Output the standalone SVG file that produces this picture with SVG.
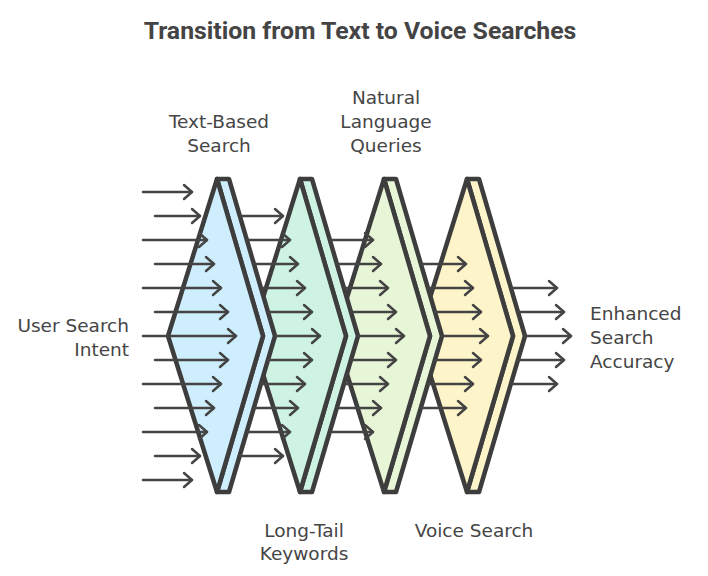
<svg xmlns="http://www.w3.org/2000/svg" width="708" height="576" viewBox="0 0 708 576">
<defs>
<marker id="ah" markerUnits="userSpaceOnUse" markerWidth="14" markerHeight="20" viewBox="0 0 14 20" refX="11" refY="10" orient="auto">
<path d="M3,3 L11,10 L3,17" fill="none" stroke="#444" stroke-width="2.5" stroke-linecap="round" stroke-linejoin="round"/>
</marker>
</defs>
<style>
.title{font-family:Roboto,"Liberation Sans",sans-serif;font-weight:700;font-size:24.8px;fill:#444}
.lbl{font-family:"DejaVu Sans","Liberation Sans",sans-serif;font-size:18.5px;fill:#454545}
.sh{stroke:#3d3d3d;stroke-width:4.5;stroke-linejoin:round}
.s1{fill:#cfeefd}.s2{fill:#cff3e2}.s3{fill:#e7f6d6}.s4{fill:#fdf5c9}
.ar{stroke:#444;stroke-width:2.5;fill:none;stroke-linecap:round;marker-end:url(#ah)}
</style>
<rect width="708" height="576" fill="#fff"/>
<text class="title" x="360" y="39" text-anchor="middle">Transition from Text to Voice Searches</text>

<g id="node-voice-search">
<path class="sh s4" d="M467,179 L479,179 L525,336 L479,492 L467,492 L513,336 Z"/>
<path class="sh s4" d="M467,179 L513,336 L467,492 L418,336 Z"/>
</g>
<g id="node-natural-language-queries">
<path class="sh s3" d="M384,179 L396,179 L442,336 L396,492 L384,492 L430,336 Z"/>
<path class="sh s3" d="M384,179 L430,336 L384,492 L335,336 Z"/>
</g>
<g id="node-long-tail-keywords">
<path class="sh s2" d="M300,179 L312,179 L358,336 L312,492 L300,492 L346,336 Z"/>
<path class="sh s2" d="M300,179 L346,336 L300,492 L251,336 Z"/>
</g>
<g id="node-text-based-search">
<path class="sh s1" d="M217,179 L229,179 L275,336 L229,492 L217,492 L263,336 Z"/>
<path class="sh s1" d="M217,179 L263,336 L217,492 L168,336 Z"/>
</g>

<g id="connectors">
<path class="ar" d="M143,192H192"/>
<path class="ar" d="M155,216H200"/>
<path class="ar" d="M143,240H207"/>
<path class="ar" d="M155,264H214"/>
<path class="ar" d="M143,288H221"/>
<path class="ar" d="M155,312H228"/>
<path class="ar" d="M143,336H236"/>
<path class="ar" d="M155,360H228"/>
<path class="ar" d="M143,384H221"/>
<path class="ar" d="M155,408H214"/>
<path class="ar" d="M143,432H207"/>
<path class="ar" d="M155,456H200"/>
<path class="ar" d="M143,480H192"/>

<path class="ar" d="M240,216H283"/>
<path class="ar" d="M247,240H290"/>
<path class="ar" d="M254,264H298"/>
<path class="ar" d="M261,288H305"/>
<path class="ar" d="M268,312H312"/>
<path class="ar" d="M275,336H320"/>
<path class="ar" d="M268,360H312"/>
<path class="ar" d="M261,384H305"/>
<path class="ar" d="M254,408H298"/>
<path class="ar" d="M247,432H290"/>
<path class="ar" d="M240,456H283"/>

<path class="ar" d="M330,240H373"/>
<path class="ar" d="M337,264H381"/>
<path class="ar" d="M344,288H388"/>
<path class="ar" d="M351,312H396"/>
<path class="ar" d="M358,336H404"/>
<path class="ar" d="M351,360H396"/>
<path class="ar" d="M344,384H388"/>
<path class="ar" d="M337,408H381"/>
<path class="ar" d="M330,432H373"/>

<path class="ar" d="M421,264H466"/>
<path class="ar" d="M428,288H473"/>
<path class="ar" d="M435,312H481"/>
<path class="ar" d="M442,336H488"/>
<path class="ar" d="M435,360H481"/>
<path class="ar" d="M428,384H473"/>
<path class="ar" d="M421,408H466"/>

<path class="ar" d="M511,288H557"/>
<path class="ar" d="M518,312H564"/>
<path class="ar" d="M525,336H571"/>
<path class="ar" d="M518,360H564"/>
<path class="ar" d="M511,384H557"/>
</g>

<g id="labels">
<text class="lbl" x="219" y="128" text-anchor="middle">Text-Based</text>
<text class="lbl" x="219" y="152" text-anchor="middle">Search</text>
<text class="lbl" x="386" y="104" text-anchor="middle">Natural</text>
<text class="lbl" x="386" y="128" text-anchor="middle">Language</text>
<text class="lbl" x="386" y="152" text-anchor="middle">Queries</text>
<text class="lbl" x="129" y="332" text-anchor="end">User Search</text>
<text class="lbl" x="129" y="356" text-anchor="end">Intent</text>
<text class="lbl" x="304" y="537" text-anchor="middle">Long-Tail</text>
<text class="lbl" x="304" y="560" text-anchor="middle">Keywords</text>
<text class="lbl" x="474" y="537" text-anchor="middle">Voice Search</text>
<text class="lbl" x="590" y="320" text-anchor="start">Enhanced</text>
<text class="lbl" x="590" y="344" text-anchor="start">Search</text>
<text class="lbl" x="590" y="368" text-anchor="start">Accuracy</text>
</g>
</svg>
